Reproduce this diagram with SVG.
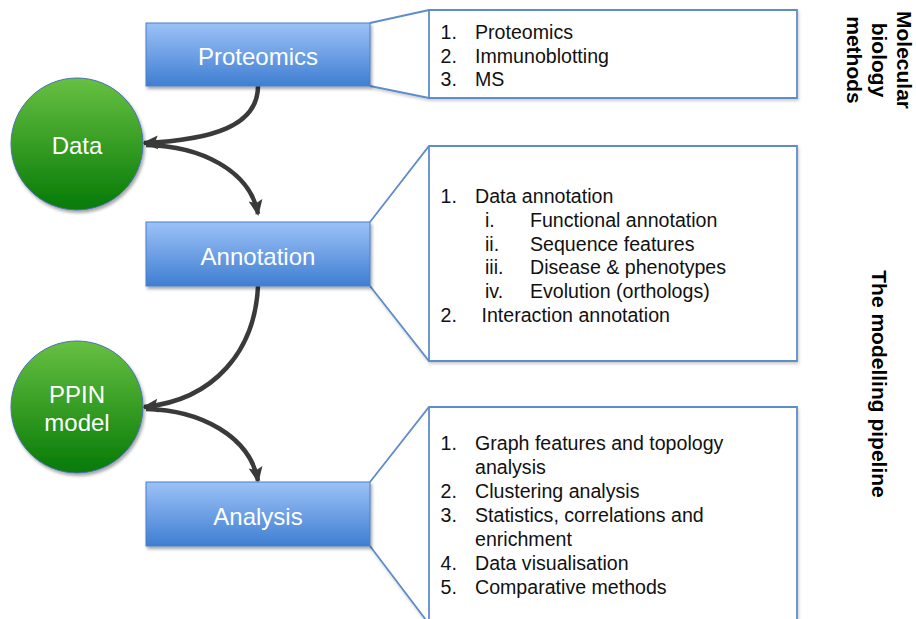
<svg xmlns="http://www.w3.org/2000/svg" width="916" height="619" viewBox="0 0 916 619">
  <defs>
    <linearGradient id="blueFill" x1="0" y1="0" x2="0" y2="1">
      <stop offset="0" stop-color="#9cc2f7"/>
      <stop offset="1" stop-color="#3f7ed2"/>
    </linearGradient>
    <linearGradient id="greenFill" x1="0" y1="0" x2="0" y2="1">
      <stop offset="0" stop-color="#67c042"/>
      <stop offset="1" stop-color="#067a06"/>
    </linearGradient>
    <filter id="shadow" x="-20%" y="-20%" width="140%" height="150%">
      <feDropShadow dx="1.5" dy="2.5" stdDeviation="1.8" flood-color="#000" flood-opacity="0.35"/>
    </filter>
    <filter id="softShadow" x="-5%" y="-5%" width="110%" height="115%">
      <feDropShadow dx="1" dy="2" stdDeviation="1.5" flood-color="#000" flood-opacity="0.2"/>
    </filter>
    <marker id="head" viewBox="0 0 16 16" refX="14" refY="8" markerWidth="16" markerHeight="16" markerUnits="userSpaceOnUse" orient="auto">
      <path d="M0,1 L16,8 L0,15 L3,8 z" fill="#3a3a3a"/>
    </marker>
  </defs>
  <style>
    .box { fill: url(#blueFill); stroke: #4a7fc8; stroke-width: 1; filter: url(#shadow); }
    .circle { fill: url(#greenFill); stroke: #4a72b8; stroke-width: 1; filter: url(#shadow); }
    .label { font-family: "Liberation Sans", Arial, sans-serif; font-size: 24px; fill: #fff; text-anchor: middle; }
    .callout { fill: #fff; stroke: #5f8cca; stroke-width: 1.8; filter: url(#softShadow); }
    .calloutEdge { fill: none; stroke: #5f8cca; stroke-width: 1.8; }
    .item { font-family: "Liberation Sans", Arial, sans-serif; font-size: 19.6px; fill: #111; }
    .title { font-family: "Liberation Sans", Arial, sans-serif; font-size: 21px; font-weight: bold; fill: #000; text-anchor: middle; }
    .edge { fill: none; stroke: #3a3a3a; stroke-width: 4.5; marker-end: url(#head); }
  </style>

  <rect width="916" height="619" fill="#fff"/>

  <!-- callout boxes -->
  <g id="callout-proteomics">
    <path class="callout" d="M370,23 L429,10 L797,10 L797,98 L429,98 L370,86"/>
    <line class="calloutEdge" x1="429" y1="10" x2="429" y2="98"/>
    <text class="item" x="440.5" y="39">1.</text>
    <text class="item" x="475" y="39">Proteomics</text>
    <text class="item" x="440.5" y="62.5">2.</text>
    <text class="item" x="475" y="62.5">Immunoblotting</text>
    <text class="item" x="440.5" y="86">3.</text>
    <text class="item" x="475" y="86">MS</text>
  </g>

  <g id="callout-annotation">
    <path class="callout" d="M370,222 L429,146 L797,146 L797,361 L429,361 L370,286"/>
    <line class="calloutEdge" x1="429" y1="146" x2="429" y2="361"/>
    <text class="item" x="440.5" y="203">1.</text>
    <text class="item" x="475" y="203">Data annotation</text>
    <text class="item" x="485" y="226.8">i.</text>
    <text class="item" x="530" y="226.8">Functional annotation</text>
    <text class="item" x="485" y="250.6">ii.</text>
    <text class="item" x="530" y="250.6">Sequence features</text>
    <text class="item" x="485" y="274.4">iii.</text>
    <text class="item" x="530" y="274.4">Disease &amp; phenotypes</text>
    <text class="item" x="485" y="298.2">iv.</text>
    <text class="item" x="530" y="298.2">Evolution (orthologs)</text>
    <text class="item" x="440.5" y="322">2.</text>
    <text class="item" x="481.5" y="322">Interaction annotation</text>
  </g>

  <g id="callout-analysis">
    <path class="callout" d="M370,482 L429,407 L797,407 L797,624 L429,624 L370,546"/>
    <line class="calloutEdge" x1="429" y1="407" x2="429" y2="624"/>
    <text class="item" x="440.5" y="450">1.</text>
    <text class="item" x="475" y="450">Graph features and topology</text>
    <text class="item" x="475" y="474">analysis</text>
    <text class="item" x="440.5" y="498">2.</text>
    <text class="item" x="475" y="498">Clustering analysis</text>
    <text class="item" x="440.5" y="522">3.</text>
    <text class="item" x="475" y="522">Statistics, correlations and</text>
    <text class="item" x="475" y="546">enrichment</text>
    <text class="item" x="440.5" y="570">4.</text>
    <text class="item" x="475" y="570">Data visualisation</text>
    <text class="item" x="440.5" y="594">5.</text>
    <text class="item" x="475" y="594">Comparative methods</text>
  </g>

  <!-- connectors -->
  <g id="connectors">
    <path class="edge" d="M258,86 C258,126 212,140 144,143"/>
    <path class="edge" d="M146,145 C200,146 250,170 258,214"/>
    <path class="edge" d="M258,286 C255,350 215,400 144,407"/>
    <path class="edge" d="M146,409 C200,410 250,436 258,481"/>
  </g>

  <!-- pipeline steps -->
  <g id="node-proteomics">
    <rect class="box" x="146" y="23" width="224" height="63"/>
    <text class="label" x="258" y="64.5">Proteomics</text>
  </g>
  <g id="node-annotation">
    <rect class="box" x="146" y="222" width="224" height="64"/>
    <text class="label" x="258" y="264.5">Annotation</text>
  </g>
  <g id="node-analysis">
    <rect class="box" x="146" y="482" width="224" height="64"/>
    <text class="label" x="258" y="524.5">Analysis</text>
  </g>

  <!-- intermediate products -->
  <g id="node-data">
    <circle class="circle" cx="77" cy="144" r="66"/>
    <text class="label" x="77" y="153.5">Data</text>
  </g>
  <g id="node-ppin">
    <circle class="circle" cx="77" cy="407" r="66"/>
    <text class="label" x="77" y="403">PPIN</text>
    <text class="label" x="77" y="430.5">model</text>
  </g>

  <!-- side headings -->
  <g id="heading-methods" transform="translate(905,60) rotate(90)">
    <text class="title" x="0" y="7.7">Molecular</text>
    <text class="title" x="0" y="32.7">biology</text>
    <text class="title" x="0" y="57.7">methods</text>
  </g>
  <g id="heading-pipeline" transform="translate(879.5,384) rotate(90)">
    <text class="title" x="0" y="7.5">The modelling pipeline</text>
  </g>
</svg>
